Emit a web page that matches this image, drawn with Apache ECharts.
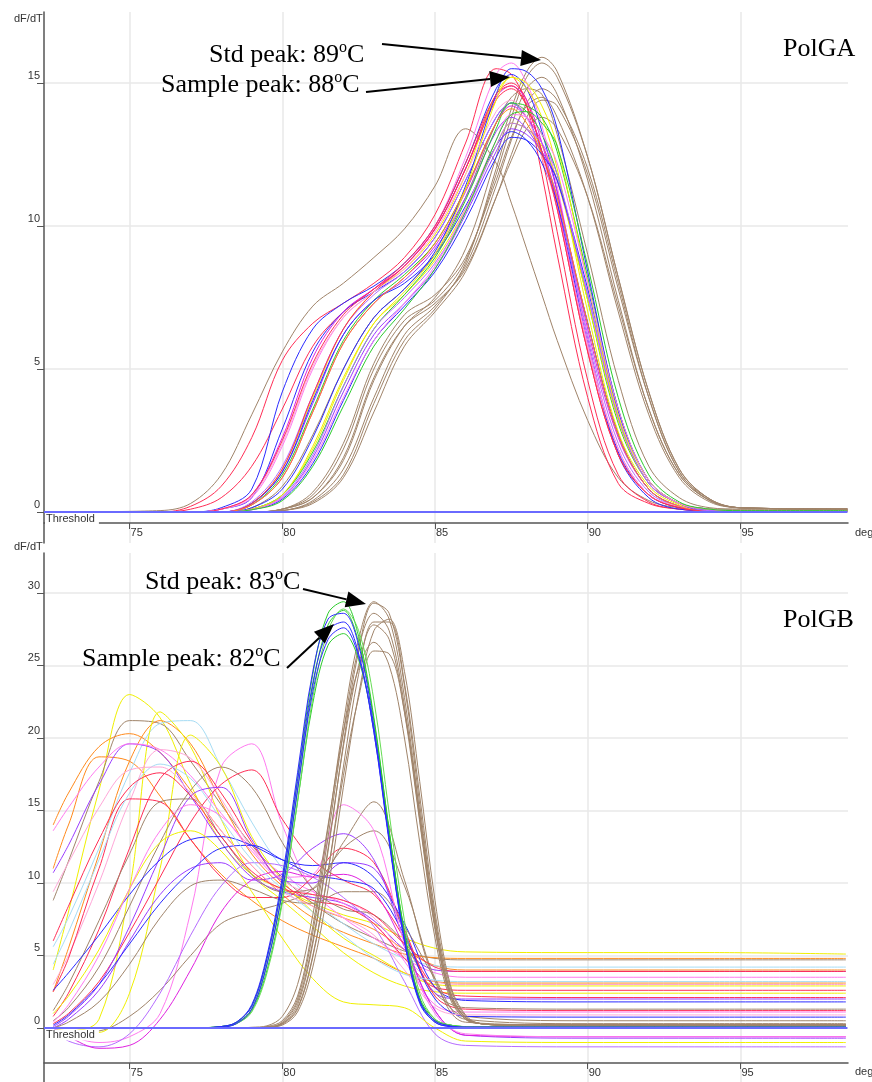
<!DOCTYPE html>
<html>
<head>
<meta charset="utf-8">
<script src="https://cdn.jsdelivr.net/npm/echarts@6.0.0/dist/echarts.min.js"></script>
<style>
html, body { margin: 0; padding: 0; background: #fff; }
#chart { width: 872px; height: 1082px; }
</style>
</head>
<body>
<div id="chart"></div>
<script>
// ---------- axis ticks ----------
const xTicks = [75, 80, 85, 90, 95];
const yTicksA = [0, 5, 10, 15];
const yTicksB = [0, 5, 10, 15, 20, 25, 30];
const thresholdValue = 0;

// ---------- PolGA : temperature grid (deg C) ----------
const tempA = [72.5, 76, 77, 78, 79, 80, 81, 82, 83, 84, 85, 86, 87, 87.5, 88, 88.5, 89, 90, 91, 92, 93, 94, 95, 98.5];

const aRed1 = [0, 0, 0.2, 0.9, 2.6, 5.3, 6.6, 7.3, 8.0, 8.9, 10.4, 12.9, 15.5, 15.3, 14.2, 11.8, 9.0, 4.0, 1.0, 0.3, 0.1, 0.05, 0.05, 0.05];
const aRed2 = [0, 0, 0.1, 0.5, 1.6, 3.6, 5.8, 7.0, 7.8, 8.6, 9.9, 12.0, 14.6, 15.0, 14.4, 12.4, 9.8, 4.6, 1.3, 0.35, 0.1, 0.05, 0.05, 0.05];
const aBrownEarly = [0, 0.05, 0.3, 1.3, 3.4, 5.6, 7.2, 8.0, 8.9, 9.9, 11.4, 13.4, 12.2, 10.8, 9.2, 7.6, 6.0, 3.2, 1.2, 0.4, 0.15, 0.1, 0.1, 0.1];
const aBlue1 = [0, 0, 0, 0.15, 0.8, 4.2, 6.4, 7.3, 7.9, 8.7, 10.0, 12.2, 14.8, 15.3, 14.8, 13.3, 11.2, 6.0, 2.0, 0.5, 0.1, 0.05, 0.05, 0.05];
const aBlue2 = [0, 0, 0, 0.1, 0.5, 2.9, 5.6, 7.0, 7.7, 8.4, 9.6, 11.6, 13.8, 14.3, 13.8, 12.6, 10.8, 6.0, 2.1, 0.6, 0.15, 0.05, 0.05, 0.05];
const aMag1 = [0, 0, 0, 0.1, 0.6, 2.6, 5.4, 7.0, 7.8, 8.6, 9.9, 12.0, 14.5, 14.9, 14.4, 12.9, 10.8, 5.8, 2.2, 0.6, 0.2, 0.05, 0.05, 0.05];
const aPink1 = [0, 0, 0, 0.1, 0.5, 2.3, 5.0, 6.8, 7.7, 8.6, 10.0, 12.4, 15.3, 15.7, 15.0, 13.5, 11.4, 6.0, 2.2, 0.6, 0.2, 0.05, 0.05, 0.05];
const aPurple1 = [0, 0, 0, 0, 0.3, 1.4, 3.8, 6.2, 7.4, 8.1, 9.2, 11.0, 13.3, 13.8, 13.4, 12.5, 11.0, 6.6, 2.7, 0.8, 0.2, 0.05, 0.05, 0.05];
const aYellow1 = [0, 0, 0, 0, 0.3, 1.5, 4.0, 6.4, 7.7, 8.5, 9.7, 11.8, 14.6, 15.2, 14.8, 13.8, 12.0, 7.0, 2.8, 0.9, 0.25, 0.05, 0.05, 0.05];
const aGreen1 = [0, 0, 0, 0, 0.25, 1.3, 3.6, 6.0, 7.4, 8.3, 9.4, 11.3, 13.6, 14.3, 14.0, 13.2, 11.8, 7.4, 3.1, 1.0, 0.3, 0.1, 0.05, 0.05];
const aBlue3 = [0, 0, 0, 0, 0.3, 1.4, 3.9, 6.2, 7.4, 8.0, 9.0, 10.7, 12.8, 13.3, 13.0, 12.2, 10.8, 6.6, 2.7, 0.8, 0.2, 0.05, 0.05, 0.05];
const aViolet1 = [0, 0, 0, 0, 0.35, 1.6, 4.1, 6.4, 7.6, 8.4, 9.6, 11.6, 13.8, 14.3, 13.8, 12.6, 11.0, 6.2, 2.4, 0.7, 0.2, 0.05, 0.05, 0.05];
const aRed3 = [0, 0, 0, 0, 0.3, 1.5, 4.1, 6.4, 7.7, 8.6, 9.9, 12.0, 14.4, 14.8, 14.2, 12.6, 10.6, 5.6, 2.0, 0.6, 0.15, 0.05, 0.05, 0.05];
const aYellow2 = [0, 0, 0, 0, 0.1, 0.6, 2.2, 4.6, 6.6, 7.6, 8.8, 10.6, 12.8, 13.6, 13.4, 12.8, 11.6, 7.4, 3.2, 1.0, 0.3, 0.05, 0.05, 0.05];
const aGreen2 = [0, 0, 0, 0, 0.1, 0.6, 2.1, 4.4, 6.4, 7.6, 8.9, 10.9, 13.4, 14.3, 14.2, 13.8, 12.6, 8.2, 3.6, 1.1, 0.3, 0.1, 0.05, 0.05];
const aMag2 = [0, 0, 0, 0, 0.25, 1.2, 3.5, 5.9, 7.3, 8.2, 9.3, 11.2, 13.6, 14.2, 13.8, 12.9, 11.2, 6.4, 2.6, 0.8, 0.2, 0.05, 0.05, 0.05];
const aBlue4 = [0, 0, 0, 0, 0.15, 0.8, 2.6, 5.0, 6.8, 7.8, 9.1, 11.4, 14.6, 15.5, 15.4, 14.8, 13.4, 8.4, 3.6, 1.1, 0.3, 0.1, 0.05, 0.05];
const aLightPink1 = [0, 0, 0, 0.1, 0.55, 2.4, 5.1, 6.8, 7.7, 8.5, 9.8, 11.8, 14.0, 14.4, 13.8, 12.4, 10.6, 5.8, 2.2, 0.6, 0.2, 0.05, 0.05, 0.05];
const aPurple2 = [0, 0, 0, 0, 0.1, 0.5, 1.9, 4.2, 6.2, 7.3, 8.5, 10.4, 12.6, 13.4, 13.2, 12.6, 11.6, 7.6, 3.3, 1.0, 0.3, 0.05, 0.05, 0.05];
const aOrange1 = [0, 0, 0, 0, 0.25, 1.2, 3.5, 5.9, 7.3, 8.2, 9.4, 11.3, 13.6, 14.1, 13.6, 12.5, 11.0, 6.6, 2.7, 0.8, 0.2, 0.05, 0.05, 0.05];
const aBlue5 = [0, 0, 0, 0, 0.08, 0.45, 1.7, 3.9, 6.0, 7.2, 8.4, 10.2, 12.4, 13.1, 13.0, 12.5, 11.6, 7.8, 3.5, 1.1, 0.3, 0.05, 0.05, 0.05];
const aRed4 = [0, 0, 0, 0.1, 0.6, 2.5, 5.2, 6.9, 7.8, 8.7, 10.0, 12.2, 14.6, 14.9, 14.2, 12.6, 10.6, 5.6, 2.0, 0.6, 0.15, 0.05, 0.05, 0.05];
const aViolet2 = [0, 0, 0, 0, 0.1, 0.55, 2.0, 4.4, 6.4, 7.5, 8.7, 10.5, 12.8, 13.6, 13.4, 12.9, 11.8, 7.6, 3.3, 1.0, 0.3, 0.05, 0.05, 0.05];
const aYellow3 = [0, 0, 0, 0, 0.1, 0.6, 2.3, 4.7, 6.6, 7.7, 9.0, 11.3, 14.4, 15.2, 15.0, 14.2, 12.8, 8.0, 3.4, 1.1, 0.3, 0.1, 0.05, 0.05];
const aPink2 = [0, 0, 0, 0, 0.08, 0.5, 1.8, 4.0, 6.0, 7.3, 8.6, 10.6, 13.0, 13.9, 13.8, 13.2, 12.2, 8.0, 3.6, 1.1, 0.3, 0.1, 0.05, 0.05];
const aGreen3 = [0, 0, 0, 0, 0.08, 0.4, 1.6, 3.7, 5.8, 7.1, 8.5, 10.5, 13.0, 13.9, 14.0, 13.6, 12.8, 8.6, 4.0, 1.3, 0.35, 0.1, 0.05, 0.05];
const aBrown1 = [0, 0, 0, 0, 0, 0.1, 0.5, 1.8, 4.6, 6.5, 7.5, 9.2, 12.4, 14.1, 15.4, 15.9, 15.4, 12.4, 8.2, 4.2, 1.5, 0.45, 0.15, 0.1];
const aBrown2 = [0, 0, 0, 0, 0, 0.1, 0.6, 2.2, 5.0, 6.7, 7.4, 8.8, 11.8, 13.5, 14.8, 15.2, 14.6, 11.6, 7.4, 3.6, 1.3, 0.4, 0.15, 0.1];
const aBrown3 = [0, 0, 0, 0, 0, 0.05, 0.4, 1.5, 4.0, 6.2, 7.2, 8.6, 11.4, 13.0, 14.3, 14.8, 14.4, 12.0, 8.0, 4.0, 1.4, 0.45, 0.15, 0.1];
const aBrown4 = [0, 0, 0, 0, 0, 0.05, 0.3, 1.2, 3.5, 5.8, 7.0, 8.4, 11.0, 12.5, 13.8, 14.4, 14.2, 11.8, 7.8, 4.0, 1.4, 0.4, 0.15, 0.1];
const aBrown5 = [0, 0, 0, 0, 0, 0.1, 0.7, 2.4, 5.2, 6.9, 7.6, 8.9, 11.6, 13.1, 14.2, 14.5, 13.8, 11.0, 7.0, 3.4, 1.2, 0.35, 0.15, 0.1];
const aBrown6 = [0, 0, 0, 0, 0, 0.05, 0.35, 1.3, 3.8, 6.0, 7.1, 8.7, 12.0, 13.8, 15.2, 15.7, 15.2, 12.4, 8.2, 4.2, 1.5, 0.45, 0.15, 0.1];
const aBrown7 = [0, 0, 0, 0, 0, 0.1, 0.5, 1.9, 4.7, 6.5, 7.3, 8.5, 11.0, 12.3, 13.4, 13.8, 13.4, 11.0, 7.2, 3.6, 1.3, 0.4, 0.15, 0.1];
const aBrown8 = [0, 0, 0, 0, 0.15, 0.9, 2.7, 5.0, 6.8, 7.8, 9.0, 11.0, 13.6, 14.5, 14.8, 14.6, 13.2, 9.0, 4.6, 1.6, 0.5, 0.15, 0.1, 0.1];

// ---------- PolGB : temperature grids (deg C) ----------
const tempWide = [72.5, 73, 74, 75, 76, 77, 78, 79, 80, 81, 82, 83, 84, 85, 86, 90, 94, 98.45];
const tempSharp = [72.5, 77, 78, 78.5, 79, 79.5, 80, 80.5, 81, 81.5, 82, 82.5, 83, 83.5, 84, 84.5, 85, 85.5, 86, 86.5, 87.5, 98.45];

// broad melting profiles
const bYellow1 = [4.0, 8.0, 16.4, 23.0, 21.4, 16.8, 12.8, 10.6, 9.6, 8.6, 7.8, 7.2, 6.2, 5.5, 5.25, 5.2, 5.2, 5.1];
const bBrown1 = [8.8, 11.5, 17.0, 21.2, 21.0, 18.4, 15.4, 12.6, 10.4, 8.6, 7.2, 6.2, 5.3, 4.8, 4.7, 4.7, 4.7, 4.7];
const bOrange1 = [14.0, 16.2, 19.4, 20.3, 19.0, 16.4, 13.6, 11.2, 9.2, 7.6, 6.6, 5.8, 5.1, 4.85, 4.8, 4.8, 4.8, 4.8];
const bOrange2 = [11.0, 14.0, 18.7, 18.4, 16.0, 13.0, 10.6, 8.8, 7.4, 6.4, 5.6, 4.8, 3.8, 3.2, 3.1, 3.1, 3.1, 3.1];
const bOrange3 = [2.5, 5.5, 12.0, 18.4, 21.2, 19.6, 15.6, 12.0, 9.8, 8.4, 7.6, 6.8, 5.4, 4.3, 4.0, 4.0, 4.0, 4.0];
const bSky1 = [5.6, 7.6, 12.4, 17.6, 21.0, 21.2, 18.0, 14.2, 11.0, 8.8, 7.2, 5.8, 4.8, 4.3, 4.2, 4.2, 4.2, 4.2];
const bYellow2 = [0, -0.2, 0.6, 9.6, 21.8, 19.4, 14.4, 10.6, 8.8, 7.0, 5.2, 3.8, 2.9, 2.5, 2.4, 2.4, 2.4, 2.4];
const bPink1 = [0, -0.5, -1.0, -0.6, 1.0, 8.0, 18.0, 19.6, 14.0, 9.5, 7.6, 6.2, 4.8, 3.8, 3.5, 3.5, 3.5, 3.5];
const bPurple1 = [10.7, 12.6, 16.8, 19.6, 19.0, 16.0, 12.8, 10.4, 9.4, 9.0, 8.6, 7.4, 5.4, 4.0, 3.9, 3.9, 3.9, 3.9];
const bPink2 = [13.6, 15.2, 18.0, 19.6, 19.2, 17.4, 14.8, 12.4, 10.6, 9.4, 8.6, 7.2, 4.6, 1.6, 1.1, 1.1, 1.1, 1.1];
const bPink3 = [3.0, 5.0, 10.0, 15.6, 19.2, 18.6, 15.8, 12.4, 10.2, 9.2, 8.8, 7.6, 5.0, 3.2, 3.0, 3.0, 3.0, 3.0];
const bYellow3 = [0, 0, -0.3, 2.4, 11.0, 20.2, 18.0, 13.2, 10.2, 8.0, 6.2, 5.0, 3.8, 3.0, 2.9, 2.9, 2.9, 2.9];
const bBrown2 = [0.5, 1.4, 4.2, 8.4, 12.8, 16.4, 18.0, 16.6, 12.8, 9.6, 8.2, 7.8, 5.8, 2.4, 1.4, 1.3, 1.3, 1.3];
const bRed1 = [0.3, 1.0, 3.2, 6.6, 10.4, 14.2, 16.8, 17.8, 14.4, 11.6, 10.2, 9.2, 6.2, 2.8, 2.2, 2.1, 2.1, 2.1];
const bRed2 = [0.8, 2.4, 6.8, 12.4, 17.2, 18.4, 16.2, 12.8, 10.0, 8.8, 8.4, 7.2, 4.8, 2.8, 2.6, 2.6, 2.6, 2.6];
const bPurple2 = [0.1, 0.8, 3.0, 7.0, 11.8, 16.0, 16.6, 13.0, 10.2, 10.0, 11.4, 11.0, 6.6, 2.4, 2.0, 2.0, 2.0, 2.0];
const bRed3 = [2.5, 4.8, 11.0, 15.8, 15.6, 13.0, 10.4, 9.0, 9.0, 10.4, 12.4, 11.4, 6.8, 2.2, 1.3, 1.2, 1.2, 1.2];
const bBrown3 = [1.2, 3.0, 7.4, 12.0, 15.6, 15.8, 13.2, 10.6, 9.4, 9.6, 12.8, 15.6, 10.2, 3.2, 0.8, 0.5, 0.5, 0.5];
const bBlue1 = [2.6, 3.8, 6.4, 9.2, 11.6, 13.0, 13.2, 12.6, 11.6, 11.2, 11.4, 10.4, 7.2, 2.8, 1.9, 1.8, 1.8, 1.8];
const bPurple3 = [0, 0.6, 2.6, 6.0, 9.2, 11.0, 11.4, 10.2, 10.6, 12.4, 13.4, 11.6, 6.0, 1.2, -0.5, -0.7, -0.7, -0.7];
const bBrown4 = [0, 0.4, 1.8, 4.4, 7.6, 9.8, 10.2, 9.6, 8.8, 8.6, 9.4, 9.4, 7.0, 3.4, 0.6, 0.3, 0.3, 0.3];
const bBrown5 = [0, -0.3, -0.2, 0.8, 2.6, 5.0, 7.2, 8.0, 8.6, 9.6, 12.4, 13.6, 9.8, 3.4, 0.4, 0.2, 0.2, 0.2];
const bPurple4 = [0, -0.9, -1.3, -0.4, 2.4, 6.4, 9.8, 11.4, 11.2, 10.4, 9.0, 7.0, 3.2, -0.4, -1.2, -1.3, -1.3, -1.3];
const bMag1 = [0, -0.6, -1.4, -1.2, 0.6, 4.0, 8.0, 10.2, 10.8, 10.4, 10.6, 9.4, 5.6, 1.2, -0.5, -0.6, -0.6, -0.6];
const bBlue2 = [0.2, 0.9, 3.0, 5.8, 8.6, 10.8, 12.4, 12.6, 11.6, 10.6, 10.2, 9.6, 6.4, 2.0, 0.8, 0.75, 0.75, 0.75];
const bYellow4 = [1.0, 2.2, 5.4, 9.6, 12.8, 13.6, 12.2, 9.4, 6.2, 3.4, 1.8, 1.6, 1.4, 0.0, -0.9, -1.0, -1.0, -1.0];
const bSky2 = [4.4, 6.6, 11.6, 16.2, 18.2, 17.2, 14.4, 11.6, 9.6, 8.0, 6.4, 4.8, 3.7, 3.3, 3.2, 3.2, 3.2, 3.2];
const bLightPink1 = [9.4, 11.4, 15.2, 17.8, 18.0, 16.2, 13.6, 11.2, 9.4, 8.4, 7.6, 6.4, 4.0, 1.4, 0.9, 0.9, 0.9, 0.9];
const bPink4 = [0.4, 1.6, 5.0, 9.6, 13.6, 15.4, 14.6, 12.2, 10.4, 10.6, 15.4, 13.6, 5.8, 1.0, -0.4, -0.6, -0.6, -0.6];
const bRed4 = [6.0, 8.4, 13.0, 16.6, 17.6, 16.0, 13.2, 10.8, 9.6, 9.2, 8.8, 7.8, 5.8, 4.2, 3.9, 3.9, 3.9, 3.9];

// sharp peaks: sample group (green / blue) and standard group (brown)
const sGreen1 = [0, 0, 0.1, 0.4, 1.5, 4.8, 10.0, 17.2, 24.4, 28.6, 29.4, 27.0, 21.4, 13.6, 6.4, 1.9, 0.5, 0.2, 0.1, 0.1, 0.1, 0.1];
const sGreen2 = [0, 0, 0.1, 0.35, 1.3, 4.4, 9.4, 16.4, 23.6, 27.8, 28.8, 26.6, 21.2, 13.6, 6.6, 2.0, 0.5, 0.2, 0.1, 0.1, 0.1, 0.1];
const sGreen3 = [0, 0, 0.1, 0.3, 1.2, 4.0, 8.8, 15.6, 22.4, 26.4, 27.2, 25.4, 20.6, 13.4, 6.6, 2.1, 0.6, 0.2, 0.1, 0.1, 0.1, 0.1];
const sGreen4 = [0, 0, 0.05, 0.3, 1.1, 3.8, 8.6, 15.6, 22.8, 27.4, 28.9, 27.4, 22.6, 14.8, 7.4, 2.4, 0.6, 0.2, 0.1, 0.1, 0.1, 0.1];
const sBlue1 = [0, 0, 0.1, 0.4, 1.6, 5.0, 10.4, 17.6, 24.6, 28.2, 28.6, 26.4, 20.8, 13.0, 6.0, 1.7, 0.4, 0.1, 0.05, 0.05, 0.05, 0.05];
const sBlue2 = [0, 0, 0.1, 0.4, 1.5, 4.8, 10.0, 17.0, 23.8, 27.4, 28.0, 25.8, 20.4, 12.8, 6.0, 1.8, 0.4, 0.1, 0.05, 0.05, 0.05, 0.05];
const sBlue3 = [0, 0, 0.05, 0.3, 1.3, 4.4, 9.4, 16.4, 23.2, 26.8, 27.6, 25.6, 20.4, 13.0, 6.2, 1.9, 0.5, 0.15, 0.05, 0.05, 0.05, 0.05];
const sBrown1 = [0, 0, 0, 0, 0, 0.05, 0.3, 1.6, 5.8, 12.2, 19.6, 26.0, 29.3, 28.6, 23.6, 15.4, 7.6, 2.5, 0.7, 0.3, 0.2, 0.2];
const sBrown2 = [0, 0, 0, 0, 0, 0.05, 0.4, 2.0, 6.6, 13.2, 20.4, 26.2, 28.6, 27.4, 22.2, 14.4, 7.0, 2.3, 0.7, 0.3, 0.2, 0.2];
const sBrown3 = [0, 0, 0, 0, 0, 0.05, 0.25, 1.3, 4.9, 10.8, 18.0, 24.4, 28.0, 28.0, 23.8, 16.0, 8.0, 2.8, 0.8, 0.3, 0.2, 0.2];
const sBrown4 = [0, 0, 0, 0, 0, 0.05, 0.35, 1.8, 6.0, 12.4, 19.4, 25.0, 27.8, 26.8, 21.8, 14.2, 6.8, 2.2, 0.6, 0.3, 0.2, 0.2];
const sBrown5 = [0, 0, 0, 0, 0, 0.05, 0.3, 1.4, 5.0, 10.8, 17.4, 22.8, 26.0, 25.8, 21.8, 14.8, 7.4, 2.5, 0.7, 0.3, 0.2, 0.2];
const sBrown6 = [0, 0, 0, 0, 0.05, 0.15, 0.8, 3.0, 7.8, 14.0, 20.4, 24.8, 26.6, 25.0, 20.0, 12.8, 6.2, 2.0, 0.6, 0.3, 0.2, 0.2];
const sBrown7 = [0, 0, 0, 0, 0, 0.05, 0.2, 1.1, 4.2, 9.6, 16.6, 23.0, 27.4, 28.2, 24.6, 17.0, 8.8, 3.0, 0.9, 0.3, 0.2, 0.2];
const sBrown8 = [0, 0, 0, 0, 0, 0.1, 0.5, 2.2, 7.0, 13.8, 21.0, 26.8, 29.4, 28.2, 22.8, 14.8, 7.0, 2.3, 0.7, 0.3, 0.2, 0.2];

// ---------- trace colours ----------
const C = {
  red: '#ff2d55', pink: '#ff7af0', lightPink: '#ffa6d8', magenta: '#e021e0',
  blue: '#2b2bff', purple: '#9a3cff', violet: '#b56cff', yellow: '#f0f000',
  green: '#2ccc2c', lightGreen: '#66dd55', brown: '#a0846a', orange: '#ff8a1c',
  sky: '#a6dcf4', threshold: '#6a6aff', axis: '#555', grid: '#e8e8e8', text: '#333'
};

const tracesA = [
  [aBrown1, C.brown], [aBrown2, C.brown], [aBrown3, C.brown], [aBrown4, C.brown],
  [aBrown5, C.brown], [aBrown6, C.brown], [aBrown7, C.brown], [aBrown8, C.brown],
  [aBrownEarly, C.brown],
  [aRed1, C.red], [aRed2, C.red], [aBlue1, C.blue], [aBlue2, C.blue],
  [aMag1, C.magenta], [aPink1, C.pink], [aPurple1, C.purple], [aYellow1, C.yellow],
  [aGreen1, C.green], [aBlue3, C.blue], [aViolet1, C.violet], [aRed3, C.red],
  [aYellow2, C.yellow], [aGreen2, C.green], [aMag2, C.magenta], [aBlue4, C.blue],
  [aLightPink1, C.lightPink], [aPurple2, C.purple], [aOrange1, C.orange], [aBlue5, C.blue],
  [aRed4, C.red], [aViolet2, C.violet], [aYellow3, C.yellow], [aPink2, C.pink], [aGreen3, C.green]
];

const tracesWide = [
  [bYellow1, C.yellow], [bBrown1, C.brown], [bOrange1, C.orange], [bOrange2, C.orange],
  [bOrange3, C.orange], [bSky1, C.sky], [bYellow2, C.yellow], [bPink1, C.pink],
  [bPurple1, C.purple], [bPink2, C.pink], [bPink3, C.lightPink], [bYellow3, C.yellow],
  [bBrown2, C.brown], [bRed1, C.red], [bRed2, C.red], [bPurple2, C.purple],
  [bRed3, C.red], [bBrown3, C.brown], [bBlue1, C.blue], [bPurple3, C.purple],
  [bBrown4, C.brown], [bBrown5, C.brown], [bPurple4, C.violet], [bMag1, C.magenta],
  [bBlue2, C.blue], [bYellow4, C.yellow], [bSky2, C.sky], [bLightPink1, C.lightPink],
  [bPink4, C.pink], [bRed4, C.red]
];

const tracesSharp = [
  [sBrown1, C.brown], [sBrown2, C.brown], [sBrown3, C.brown], [sBrown4, C.brown],
  [sBrown5, C.brown], [sBrown6, C.brown], [sBrown7, C.brown], [sBrown8, C.brown],
  [sGreen1, C.green], [sGreen2, C.green], [sGreen3, C.green], [sGreen4, C.lightGreen],
  [sBlue1, C.blue], [sBlue2, C.blue], [sBlue3, C.blue]
];

// ---------- builders ----------
function trace(xs, ys, color, gi) {
  return {
    type: 'line', xAxisIndex: gi, yAxisIndex: gi,
    data: xs.map((x, i) => [x, ys[i]]),
    showSymbol: false, symbol: 'none', smooth: 0.35,
    lineStyle: { color: color, width: 1 }, silent: true, z: 2
  };
}

function thresholdLine(gi) {
  return {
    type: 'line', xAxisIndex: gi, yAxisIndex: gi,
    data: [[72.2, thresholdValue], [98.5, thresholdValue]],
    showSymbol: false, symbol: 'none',
    lineStyle: { color: C.threshold, width: 2 }, silent: true, z: 3
  };
}

function xAxisFor(gi, offset) {
  return {
    type: 'value', gridIndex: gi, min: 72.2, max: 98.52, offset: offset,
    axisLine: { show: true, onZero: false, lineStyle: { color: C.axis, width: 1.5 } },
    axisTick: { show: true, customValues: xTicks, length: 6, lineStyle: { color: C.axis } },
    axisLabel: { customValues: xTicks, align: 'left', margin: 4, padding: [0, 0, 0, 1],
                 fontSize: 11, color: C.text, fontFamily: 'Liberation Sans, Arial, sans-serif' },
    splitLine: { show: true, lineStyle: { color: C.grid, width: 1.5 } }
  };
}

function yAxisFor(gi, min, max, ticks) {
  return {
    type: 'value', gridIndex: gi, min: min, max: max,
    axisLine: { show: true, onZero: false, lineStyle: { color: C.axis, width: 1.5 } },
    axisTick: { show: true, customValues: ticks, length: 7, lineStyle: { color: C.axis } },
    axisLabel: { customValues: ticks, margin: 4, verticalAlign: 'bottom', padding: [0, 0, 2, 0],
                 fontSize: 11, color: C.text, fontFamily: 'Liberation Sans, Arial, sans-serif' },
    splitLine: { show: true, lineStyle: { color: C.grid, width: 1.5 } }
  };
}

function arrow(x1, y1, x2, y2) {
  const dx = x2 - x1, dy = y2 - y1, len = Math.hypot(dx, dy);
  const ux = dx / len, uy = dy / len, hl = 20, hw = 8;
  const bx = x2 - ux * hl, by = y2 - uy * hl;
  return [
    { type: 'line', z: 100, shape: { x1: x1, y1: y1, x2: bx, y2: by },
      style: { stroke: '#000', lineWidth: 2 } },
    { type: 'polygon', z: 100,
      shape: { points: [[x2, y2], [bx - uy * hw, by + ux * hw], [bx + uy * hw, by - ux * hw]] },
      style: { fill: '#000' } }
  ];
}

const serif = '"Liberation Serif", "Times New Roman", serif';
const richNote = {
  n: { fontSize: 26, fontFamily: serif, lineHeight: 30, fill: '#000' },
  s: { fontSize: 16, fontFamily: serif, lineHeight: 16, verticalAlign: 'top', fill: '#000' }
};
function note(x, y, text) {
  return { type: 'text', z: 100, style: { x: x, y: y, text: text, rich: richNote, verticalAlign: 'top' } };
}
function smallText(x, y, text, extra) {
  return { type: 'text', z: 100, style: Object.assign({
    x: x, y: y, text: text, fontSize: 11, fontFamily: 'Liberation Sans, Arial, sans-serif',
    fill: C.text, verticalAlign: 'middle' }, extra || {}) };
}

const series = [];
tracesA.forEach(t => series.push(trace(tempA, t[0], t[1], 0)));
series.push(thresholdLine(0));
tracesWide.forEach(t => series.push(trace(tempWide, t[0], t[1], 1)));
tracesSharp.forEach(t => series.push(trace(tempSharp, t[0], t[1], 1)));
series.push(thresholdLine(1));

const graphics = [].concat(
  [
    smallText(14, 19, 'dF/dT'),
    smallText(14, 547, 'dF/dT'),
    smallText(45, 519, 'Threshold', { backgroundColor: '#fff', padding: [0, 4, 0, 1] }),
    smallText(45, 1035, 'Threshold', { backgroundColor: '#fff', padding: [0, 4, 0, 1] }),
    smallText(855, 533, 'deg'),
    smallText(855, 1072, 'deg'),
    note(209, 40, '{n|Std peak: 89}{s|o}{n|C}'),
    note(161, 70, '{n|Sample peak: 88}{s|o}{n|C}'),
    note(145, 567, '{n|Std peak: 83}{s|o}{n|C}'),
    note(82, 644, '{n|Sample peak: 82}{s|o}{n|C}'),
    note(783, 34, '{n|PolGA}'),
    note(783, 605, '{n|PolGB}')
  ],
  arrow(382, 44, 541, 60),
  arrow(366, 92, 510, 77),
  arrow(303, 589, 366, 604),
  arrow(287, 668, 334, 624)
);

const option = {
  animation: false,
  backgroundColor: '#fff',
  grid: [
    { left: 44, right: 24, top: 12, height: 531 },
    { left: 44, right: 24, top: 553, height: 529 }
  ],
  xAxis: [xAxisFor(0, -20), xAxisFor(1, -19)],
  yAxis: [yAxisFor(0, -1.083, 17.483, yTicksA), yAxisFor(1, -3.724, 32.759, yTicksB)],
  series: series,
  graphic: graphics
};

const chart = echarts.init(document.getElementById('chart'), null, { renderer: 'canvas' });
chart.setOption(option);
</script>
</body>
</html>
